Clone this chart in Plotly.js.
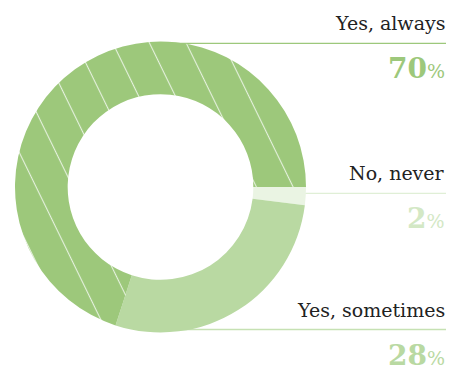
<!DOCTYPE html>
<html>
<head>
<meta charset="utf-8">
<script src="https://cdn.plot.ly/plotly-3.0.1.min.js"></script>
<style>html,body{margin:0;padding:0;background:#fff;}#chart{width:450px;height:367px;}</style>
</head>
<body>
<div id="chart"></div>
<script>
// Data (clockwise from 3 o'clock)
const labels = ['No, never', 'Yes, sometimes', 'Yes, always'];
const values = [2, 28, 70];
const sliceColors = ['#EAF4E3', '#B9D9A2', '#9DC87B'];
const pctColors = ['#D3E8C5', '#B9D9A2', '#9DC87B'];
const lineColors = ['#E0EFD6', '#C6E1B3', '#9DC87B'];

const W = 450, H = 367;
const px = x => x / W;
const py = y => 1 - y / H;

// label block layout, top-to-bottom order of slices by index
const order = [2, 0, 1];
const lineY = [43.3, 193.3, 329.5];
const lineX0 = [165, 285, 180];

const annotations = [];
const shapes = [];
order.forEach((idx, k) => {
  const ly = lineY[k];
  shapes.push({
    type: 'line', xref: 'paper', yref: 'paper', layer: 'below',
    x0: px(lineX0[k]), x1: px(446), y0: py(ly), y1: py(ly),
    line: {color: lineColors[idx], width: 1.3}
  });
  annotations.push({
    xref: 'paper', yref: 'paper', x: px(447), y: py(ly - 20), xanchor: 'right', yanchor: 'middle',
    text: labels[idx], showarrow: false,
    font: {family: 'DejaVu Serif', size: 19, color: '#222222'}
  });
  annotations.push({
    xref: 'paper', yref: 'paper', x: px(447), y: py(ly + 25.5), xanchor: 'right', yanchor: 'middle',
    text: '<b>' + values[idx] + '</b><span style="font-size:19px">%</span>', showarrow: false,
    font: {family: 'DejaVu Serif', size: 28, color: pctColors[idx]}
  });
});

const trace = {
  type: 'pie',
  labels: labels,
  values: values,
  sort: false,
  direction: 'clockwise',
  rotation: 90,
  hole: 0.638,
  textinfo: 'none',
  hoverinfo: 'none',
  domain: {x: [px(15), px(306)], y: [py(332.5), py(41.5)]},
  marker: {
    colors: sliceColors,
    line: {width: 0},
    pattern: {
      shape: ['', '', '|'],
      size: 33,
      solidity: 0.033,
      fgcolor: '#ffffff',
      fgopacity: 0.75,
      bgcolor: sliceColors
    }
  }
};

const layout = {
  width: W, height: H,
  margin: {l: 0, r: 0, t: 0, b: 0},
  paper_bgcolor: '#ffffff',
  showlegend: false,
  shapes: shapes,
  annotations: annotations
};

Plotly.newPlot('chart', [trace], layout, {displayModeBar: false, staticPlot: true}).then(() => {
  document.querySelectorAll('pattern').forEach(p => p.setAttribute('patternTransform', 'rotate(-26)'));
});
</script>
</body>
</html>
